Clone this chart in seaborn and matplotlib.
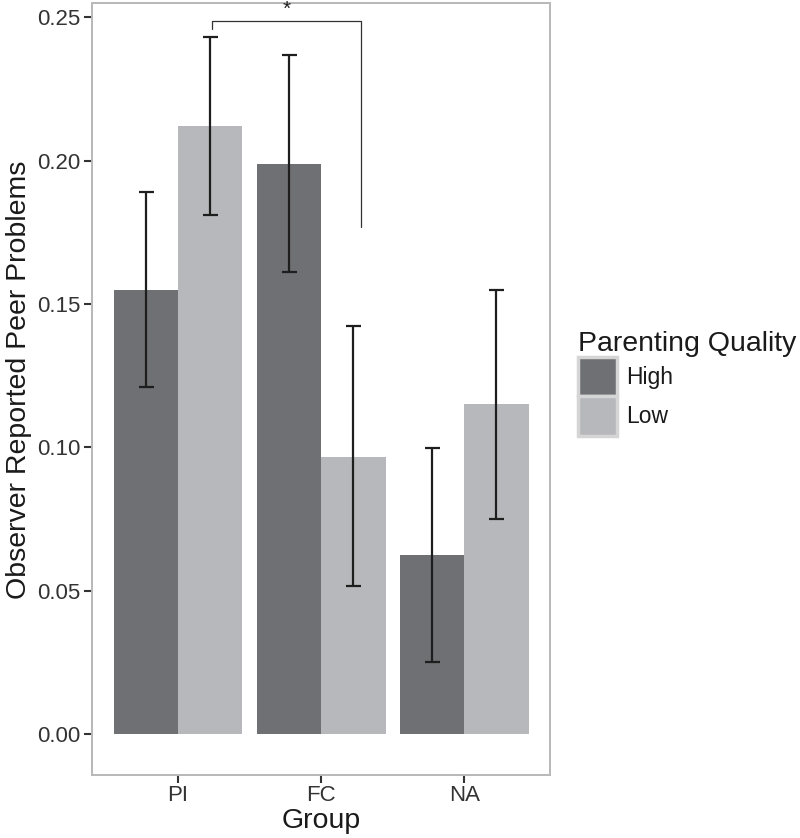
import matplotlib
matplotlib.use("Agg")
import matplotlib.pyplot as plt
import seaborn as sns
import pandas as pd
from matplotlib.patches import Patch

# ---- data ----
groups = ["PI", "FC", "NA"]
quality = ["High", "Low"]
means_high = [0.155, 0.199, 0.0623]
means_low = [0.212, 0.0967, 0.115]
lower_high = [0.121, 0.161, 0.025]
upper_high = [0.189, 0.237, 0.0996]
lower_low = [0.181, 0.0515, 0.0751]
upper_low = [0.243, 0.1424, 0.155]
yticks = [0.00, 0.05, 0.10, 0.15, 0.20, 0.25]
bracket_x = [0.24, 1.28]
bracket_y = [0.2459, 0.2488, 0.1769]
star_label = "*"

dark = "#6f7074"
light = "#b7b8bb"

sns.set_theme(style="white")
plt.rcParams['font.family'] = ['Liberation Sans', 'DejaVu Sans']

W, H = 800, 838
fig = plt.figure(figsize=(W / 100, H / 100), dpi=100)
left, right, top, bottom = 92.3, 550, 2.7, 774.7
ax = fig.add_axes([left / W, 1 - bottom / H, (right - left) / W, (bottom - top) / H])

df = pd.DataFrame({
    "Group": groups * 2,
    "Quality": ["High"] * len(groups) + ["Low"] * len(groups),
    "Value": means_high + means_low,
})
sns.barplot(data=df, x="Group", y="Value", hue="Quality", order=groups,
            hue_order=quality, palette=[dark, light], width=0.9, gap=0,
            errorbar=None, saturation=1, linewidth=0, ax=ax)

lows = [lower_high, lower_low]
highs = [upper_high, upper_low]
means = [means_high, means_low]
bar_conts = list(ax.containers)
for k, cont in enumerate(bar_conts):
    xs = [p.get_x() + p.get_width() / 2 for p in cont.patches]
    m = means[k]
    lo = [m[i] - lows[k][i] for i in range(len(m))]
    hi = [highs[k][i] - m[i] for i in range(len(m))]
    ax.errorbar(xs, m, yerr=[lo, hi], fmt="none", ecolor="#1e1e1e",
                elinewidth=1.6, capsize=5.4, capthick=1.6, zorder=5)

# significance bracket
ax.plot([bracket_x[0], bracket_x[0], bracket_x[1], bracket_x[1]],
        [bracket_y[0], bracket_y[1], bracket_y[1], bracket_y[2]],
        color="#333333", lw=0.9, clip_on=False, zorder=6)
ax.text(sum(bracket_x) / 2, 0.2528, star_label, ha="center", va="center",
        fontsize=15, color="#222222", clip_on=False)

ax.set_xlim(-0.6, 2.6)
ax.set_ylim(-0.0142, 0.2551)
ax.set_yticks(yticks)
ax.set_yticklabels([f"{v:.2f}" for v in yticks])
ax.set_xlabel("Group", fontsize=20.5, color="#1a1a1a", labelpad=1)
ax.set_ylabel("Observer Reported Peer Problems", fontsize=20.5, color="#1a1a1a")
ax.yaxis.set_label_coords(-0.132, 0.512)
ax.tick_params(axis="both", which="both", direction="out", length=6, width=1.5,
               color="#333333", labelsize=16, labelcolor="#333333", pad=2.5,
               left=True, bottom=True)
ax.tick_params(axis="x", pad=1.5)
for s in ax.spines.values():
    s.set_color("#b8b8b8")
    s.set_linewidth(1.4)
ax.grid(False)

if ax.get_legend() is not None:
    ax.get_legend().remove()
handles = [Patch(facecolor=c, edgecolor="#d5d5d5", linewidth=2.5) for c in [dark, light]]
leg = fig.legend(handles, quality, title="Parenting Quality", loc="upper left",
                 bbox_to_anchor=(578 / W, 1 - 331 / H), frameon=False, fontsize=16.5,
                 title_fontsize=20.5, handlelength=1.72, handleheight=2.27,
                 labelspacing=0.0, handletextpad=0.4, borderaxespad=0, borderpad=0,
                 alignment="left")
for t in leg.get_texts():
    t.set_color("#1a1a1a")
leg.get_title().set_color("#1a1a1a")

fig.savefig("out.png", dpi=100)
